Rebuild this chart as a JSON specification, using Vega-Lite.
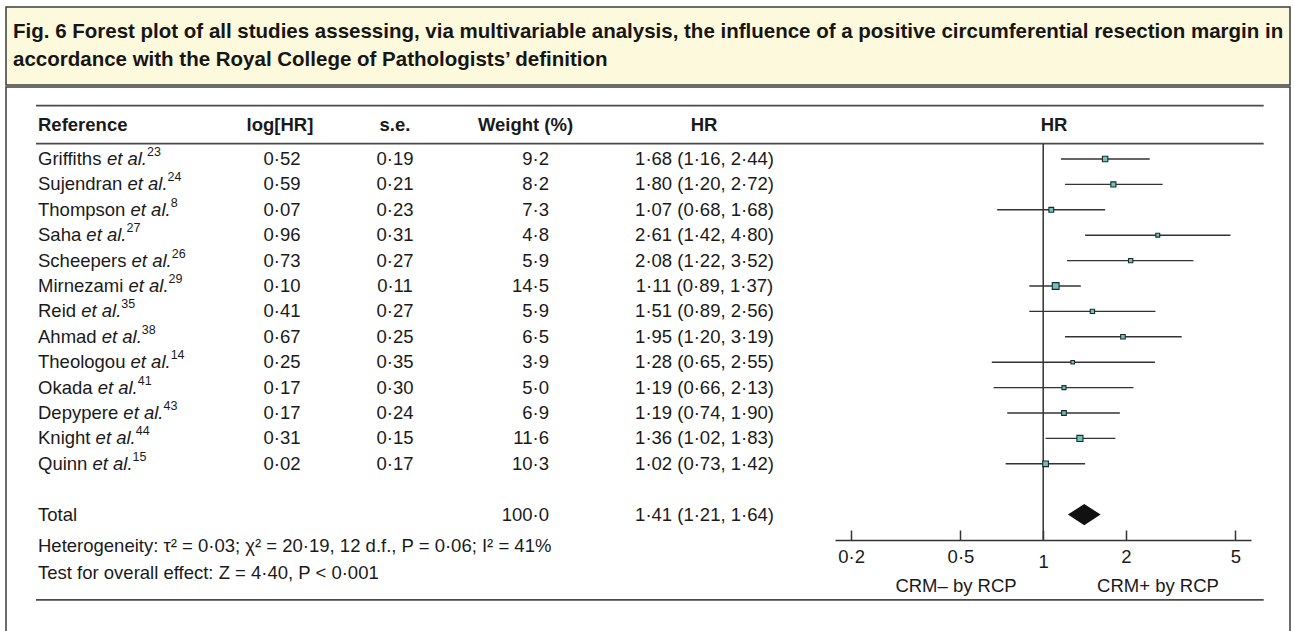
{
  "$schema": "https://vega.github.io/schema/vega-lite/v6.json",
  "padding": {"left": 5, "top": 6, "right": 0, "bottom": 0},
  "background": "white",
  "spacing": 0,
  "config": {
    "font": "Liberation Sans",
    "view": {"stroke": "#3d3d3d", "strokeWidth": 1.5},
    "concat": {"spacing": 0},
    "locale": {"number": {"decimal": "·", "thousands": ",", "grouping": [3], "currency": ["", ""]}}
  },
  "datasets": {
    "rows": [
      {"row": 1, "ref": "Griffiths", "sup": "23", "loghr": 0.52, "se": 0.19, "weight": 9.2, "ci": "1·68 (1·16, 2·44)", "hr": 1.68, "lo": 1.16, "hi": 2.44, "kind": "study"},
      {"row": 2, "ref": "Sujendran", "sup": "24", "loghr": 0.59, "se": 0.21, "weight": 8.2, "ci": "1·80 (1·20, 2·72)", "hr": 1.80, "lo": 1.20, "hi": 2.72, "kind": "study"},
      {"row": 3, "ref": "Thompson", "sup": "8", "loghr": 0.07, "se": 0.23, "weight": 7.3, "ci": "1·07 (0·68, 1·68)", "hr": 1.07, "lo": 0.68, "hi": 1.68, "kind": "study"},
      {"row": 4, "ref": "Saha", "sup": "27", "loghr": 0.96, "se": 0.31, "weight": 4.8, "ci": "2·61 (1·42, 4·80)", "hr": 2.61, "lo": 1.42, "hi": 4.80, "kind": "study"},
      {"row": 5, "ref": "Scheepers", "sup": "26", "loghr": 0.73, "se": 0.27, "weight": 5.9, "ci": "2·08 (1·22, 3·52)", "hr": 2.08, "lo": 1.22, "hi": 3.52, "kind": "study"},
      {"row": 6, "ref": "Mirnezami", "sup": "29", "loghr": 0.10, "se": 0.11, "weight": 14.5, "ci": "1·11 (0·89, 1·37)", "hr": 1.11, "lo": 0.89, "hi": 1.37, "kind": "study"},
      {"row": 7, "ref": "Reid", "sup": "35", "loghr": 0.41, "se": 0.27, "weight": 5.9, "ci": "1·51 (0·89, 2·56)", "hr": 1.51, "lo": 0.89, "hi": 2.56, "kind": "study"},
      {"row": 8, "ref": "Ahmad", "sup": "38", "loghr": 0.67, "se": 0.25, "weight": 6.5, "ci": "1·95 (1·20, 3·19)", "hr": 1.95, "lo": 1.20, "hi": 3.19, "kind": "study"},
      {"row": 9, "ref": "Theologou", "sup": "14", "loghr": 0.25, "se": 0.35, "weight": 3.9, "ci": "1·28 (0·65, 2·55)", "hr": 1.28, "lo": 0.65, "hi": 2.55, "kind": "study"},
      {"row": 10, "ref": "Okada", "sup": "41", "loghr": 0.17, "se": 0.30, "weight": 5.0, "ci": "1·19 (0·66, 2·13)", "hr": 1.19, "lo": 0.66, "hi": 2.13, "kind": "study"},
      {"row": 11, "ref": "Depypere", "sup": "43", "loghr": 0.17, "se": 0.24, "weight": 6.9, "ci": "1·19 (0·74, 1·90)", "hr": 1.19, "lo": 0.74, "hi": 1.90, "kind": "study"},
      {"row": 12, "ref": "Knight", "sup": "44", "loghr": 0.31, "se": 0.15, "weight": 11.6, "ci": "1·36 (1·02, 1·83)", "hr": 1.36, "lo": 1.02, "hi": 1.83, "kind": "study"},
      {"row": 13, "ref": "Quinn", "sup": "15", "loghr": 0.02, "se": 0.17, "weight": 10.3, "ci": "1·02 (0·73, 1·42)", "hr": 1.02, "lo": 0.73, "hi": 1.42, "kind": "study"},
      {"row": 15, "ref": "Total", "sup": "", "loghr": null, "se": null, "weight": 100.0, "ci": "1·41 (1·21, 1·64)", "hr": 1.41, "lo": 1.21, "hi": 1.64, "kind": "total"}
    ]
  },
  "vconcat": [
    {
      "width": 1284,
      "height": 78,
      "view": {"fill": "#fdf9dc", "stroke": "#3d3d3d", "strokeWidth": 1.5},
      "data": {"values": [
        {"line": 1, "text": "Fig. 6 Forest plot of all studies assessing, via multivariable analysis, the influence of a positive circumferential resection margin in"},
        {"line": 2, "text": "accordance with the Royal College of Pathologists’ definition"}
      ]},
      "mark": {"type": "text", "align": "left", "baseline": "middle", "fontSize": 20.5, "fontWeight": "bold", "color": "#161616", "dx": 7},
      "encoding": {
        "x": {"datum": 0, "type": "quantitative", "scale": {"domain": [0, 1], "nice": false}, "axis": null},
        "y": {"field": "line", "type": "ordinal", "axis": null, "scale": {"padding": 0.944}},
        "text": {"field": "text"}
      }
    },
    {
      "width": 1284,
      "height": 549,
      "view": {"fill": "white", "stroke": "#3d3d3d", "strokeWidth": 1.5},
      "data": {"name": "rows"},
      "resolve": {"scale": {"x": "independent"}, "axis": {"x": "independent"}},
      "layer": [
        {
          "layer": [
            {
              "mark": {"type": "text", "align": "left", "baseline": "middle", "fontSize": 18.5, "color": "#1a1a1a"},
              "encoding": {
                "x": {"datum": 32, "type": "quantitative", "scale": {"domain": [0, 1284], "nice": false, "zero": false}, "axis": null},
                "y": {"field": "row", "type": "quantitative", "scale": {"domain": [-1.8346, 19.7795], "reverse": true, "nice": false, "zero": false}, "axis": null},
                "text": {"field": "ref"}
              }
            },
            {
              "transform": [{"filter": "datum.kind === 'study'"}],
              "mark": {"type": "text", "align": "left", "baseline": "middle", "fontSize": 18.5, "fontStyle": "italic", "color": "#1a1a1a",
                "dx": {"expr": "0.0185*(556*length(datum.ref) - 334*(length(datum.ref)-length(replace(datum.ref,regexp('[ijl]','g'),''))) - 278*(length(datum.ref)-length(replace(datum.ref,regexp('[ft]','g'),''))) - 223*(length(datum.ref)-length(replace(datum.ref,regexp('r','g'),''))) - 56*(length(datum.ref)-length(replace(datum.ref,regexp('[cksvxyz]','g'),''))) + 277*(length(datum.ref)-length(replace(datum.ref,regexp('[mM]','g'),''))) + 111*(length(datum.ref)-length(replace(datum.ref,regexp('[AKS]','g'),''))) + 166*(length(datum.ref)-length(replace(datum.ref,regexp('[DR]','g'),''))) + 222*(length(datum.ref)-length(replace(datum.ref,regexp('[GOQ]','g'),''))) + 55*(length(datum.ref)-length(replace(datum.ref,regexp('T','g'),''))) + 278)"},
                "text": "et al."},
              "encoding": {
                "x": {"datum": 32, "type": "quantitative"},
                "y": {"field": "row", "type": "quantitative"}
              }
            },
            {
              "transform": [{"filter": "datum.kind === 'study'"}],
              "mark": {"type": "text", "align": "left", "baseline": "middle", "fontSize": 12.5, "color": "#1a1a1a", "dy": -7,
                "dx": {"expr": "0.0185*(556*length(datum.ref) - 334*(length(datum.ref)-length(replace(datum.ref,regexp('[ijl]','g'),''))) - 278*(length(datum.ref)-length(replace(datum.ref,regexp('[ft]','g'),''))) - 223*(length(datum.ref)-length(replace(datum.ref,regexp('r','g'),''))) - 56*(length(datum.ref)-length(replace(datum.ref,regexp('[cksvxyz]','g'),''))) + 277*(length(datum.ref)-length(replace(datum.ref,regexp('[mM]','g'),''))) + 111*(length(datum.ref)-length(replace(datum.ref,regexp('[AKS]','g'),''))) + 166*(length(datum.ref)-length(replace(datum.ref,regexp('[DR]','g'),''))) + 222*(length(datum.ref)-length(replace(datum.ref,regexp('[GOQ]','g'),''))) + 55*(length(datum.ref)-length(replace(datum.ref,regexp('T','g'),''))) + 278 + 2168)"}},
              "encoding": {
                "x": {"datum": 32, "type": "quantitative"},
                "y": {"field": "row", "type": "quantitative"},
                "text": {"field": "sup"}
              }
            },
            {
              "transform": [{"filter": "datum.kind === 'study'"}],
              "mark": {"type": "text", "align": "center", "baseline": "middle", "fontSize": 18.5, "color": "#1a1a1a"},
              "encoding": {
                "x": {"datum": 276, "type": "quantitative"},
                "y": {"field": "row", "type": "quantitative"},
                "text": {"field": "loghr", "type": "quantitative", "format": ".2f"}
              }
            },
            {
              "transform": [{"filter": "datum.kind === 'study'"}],
              "mark": {"type": "text", "align": "center", "baseline": "middle", "fontSize": 18.5, "color": "#1a1a1a"},
              "encoding": {
                "x": {"datum": 389, "type": "quantitative"},
                "y": {"field": "row", "type": "quantitative"},
                "text": {"field": "se", "type": "quantitative", "format": ".2f"}
              }
            },
            {
              "mark": {"type": "text", "align": "right", "baseline": "middle", "fontSize": 18.5, "color": "#1a1a1a"},
              "encoding": {
                "x": {"datum": 543, "type": "quantitative"},
                "y": {"field": "row", "type": "quantitative"},
                "text": {"field": "weight", "type": "quantitative", "format": ".1f"}
              }
            },
            {
              "mark": {"type": "text", "align": "center", "baseline": "middle", "fontSize": 18.5, "color": "#1a1a1a"},
              "encoding": {
                "x": {"datum": 698.5, "type": "quantitative"},
                "y": {"field": "row", "type": "quantitative"},
                "text": {"field": "ci"}
              }
            },
            {
              "data": {"values": [{}]},
              "mark": {"type": "text", "align": "left", "baseline": "middle", "fontSize": 18.5, "fontWeight": "bold", "color": "#1a1a1a", "text": "Reference"},
              "encoding": {"x": {"datum": 32, "type": "quantitative"}, "y": {"datum": -0.327, "type": "quantitative"}}
            },
            {
              "data": {"values": [{}]},
              "mark": {"type": "text", "align": "center", "baseline": "middle", "fontSize": 18.5, "fontWeight": "bold", "color": "#1a1a1a", "text": "log[HR]"},
              "encoding": {"x": {"datum": 274, "type": "quantitative"}, "y": {"datum": -0.327, "type": "quantitative"}}
            },
            {
              "data": {"values": [{}]},
              "mark": {"type": "text", "align": "center", "baseline": "middle", "fontSize": 18.5, "fontWeight": "bold", "color": "#1a1a1a", "text": "s.e."},
              "encoding": {"x": {"datum": 389, "type": "quantitative"}, "y": {"datum": -0.327, "type": "quantitative"}}
            },
            {
              "data": {"values": [{}]},
              "mark": {"type": "text", "align": "center", "baseline": "middle", "fontSize": 18.5, "fontWeight": "bold", "color": "#1a1a1a", "text": "Weight (%)"},
              "encoding": {"x": {"datum": 519.5, "type": "quantitative"}, "y": {"datum": -0.327, "type": "quantitative"}}
            },
            {
              "data": {"values": [{}]},
              "mark": {"type": "text", "align": "center", "baseline": "middle", "fontSize": 18.5, "fontWeight": "bold", "color": "#1a1a1a", "text": "HR"},
              "encoding": {"x": {"datum": 698, "type": "quantitative"}, "y": {"datum": -0.327, "type": "quantitative"}}
            },
            {
              "data": {"values": [{}]},
              "mark": {"type": "text", "align": "left", "baseline": "middle", "fontSize": 18.5, "color": "#1a1a1a", "text": "Heterogeneity: τ² = 0·03; χ² = 20·19, 12 d.f., P = 0·06; I² = 41%"},
              "encoding": {"x": {"datum": 32, "type": "quantitative"}, "y": {"datum": 16.25, "type": "quantitative"}}
            },
            {
              "data": {"values": [{}]},
              "mark": {"type": "text", "align": "left", "baseline": "middle", "fontSize": 18.5, "color": "#1a1a1a", "text": "Test for overall effect: Z = 4·40, P < 0·001"},
              "encoding": {"x": {"datum": 32, "type": "quantitative"}, "y": {"datum": 17.3, "type": "quantitative"}}
            },
            {
              "data": {"values": [{"line": "top", "pos": -1.098}, {"line": "header", "pos": 0.398}, {"line": "bottom", "pos": 18.36}]},
              "mark": {"type": "rule", "color": "#4a4a4a", "strokeWidth": 1.8},
              "encoding": {
                "x": {"datum": 30, "type": "quantitative"},
                "x2": {"datum": 1257.7},
                "y": {"field": "pos", "type": "quantitative"}
              }
            }
          ]
        },
        {
          "layer": [
            {
              "data": {"values": [{}]},
              "mark": {"type": "rule", "color": "#333333", "strokeWidth": 1.5},
              "encoding": {
                "x": {"datum": 1, "type": "quantitative",
                  "scale": {"type": "log", "domain": [0.1748, 5.70], "range": [829, 1245], "nice": false},
                  "axis": {"values": [0.2, 0.5, 1, 2, 5], "format": "~g", "orient": "bottom", "offset": -96, "title": null, "grid": false,
                    "domainColor": "#333333", "domainWidth": 1.5, "tickColor": "#333333", "tickWidth": 1.5, "tickSize": -10,
                    "labelFontSize": 18.5, "labelColor": "#1a1a1a", "labelFont": "Liberation Sans", "labelFlush": false,
                    "labelPadding": {"condition": {"test": "datum.value === 1", "value": 22}, "value": 17}}},
                "y": {"datum": 0.398, "type": "quantitative", "scale": {"domain": [-1.8346, 19.7795], "reverse": true, "nice": false, "zero": false}},
                "y2": {"datum": 15.988}
              }
            },
            {
              "transform": [{"filter": "datum.kind === 'study'"}],
              "mark": {"type": "rule", "color": "#333333", "strokeWidth": 1.4},
              "encoding": {
                "x": {"field": "lo", "type": "quantitative"},
                "x2": {"field": "hi"},
                "y": {"field": "row", "type": "quantitative"}
              }
            },
            {
              "transform": [{"filter": "datum.kind === 'study'"}],
              "mark": {"type": "point", "shape": "square", "filled": true, "fill": "#6cc5bd", "stroke": "#1f2b2b", "strokeWidth": 1.1, "opacity": 1},
              "encoding": {
                "x": {"field": "hr", "type": "quantitative"},
                "y": {"field": "row", "type": "quantitative"},
                "size": {"field": "weight", "type": "quantitative", "scale": {"domain": [0, 14.5], "range": [0, 46]}, "legend": null}
              }
            },
            {
              "transform": [{"filter": "datum.kind === 'total'"}],
              "mark": {"type": "point", "shape": "M-1,0L0,-0.65L1,0L0,0.65Z", "filled": true, "fill": "#111111", "strokeWidth": 0, "size": 1069, "opacity": 1},
              "encoding": {
                "x": {"field": "hr", "type": "quantitative"},
                "y": {"field": "row", "type": "quantitative"}
              }
            },
            {
              "data": {"values": [{}]},
              "mark": {"type": "text", "align": "center", "baseline": "middle", "fontSize": 18.5, "fontWeight": "bold", "color": "#1a1a1a", "text": "HR"},
              "encoding": {"x": {"datum": 1.095, "type": "quantitative"}, "y": {"datum": -0.327, "type": "quantitative"}}
            },
            {
              "data": {"values": [{}]},
              "mark": {"type": "text", "align": "center", "baseline": "middle", "fontSize": 18.5, "color": "#1a1a1a", "text": "CRM– by RCP"},
              "encoding": {"x": {"datum": 0.4818, "type": "quantitative"}, "y": {"datum": 17.8, "type": "quantitative"}}
            },
            {
              "data": {"values": [{}]},
              "mark": {"type": "text", "align": "center", "baseline": "middle", "fontSize": 18.5, "color": "#1a1a1a", "text": "CRM+ by RCP"},
              "encoding": {"x": {"datum": 2.616, "type": "quantitative"}, "y": {"datum": 17.8, "type": "quantitative"}}
            }
          ]
        }
      ]
    }
  ]
}
